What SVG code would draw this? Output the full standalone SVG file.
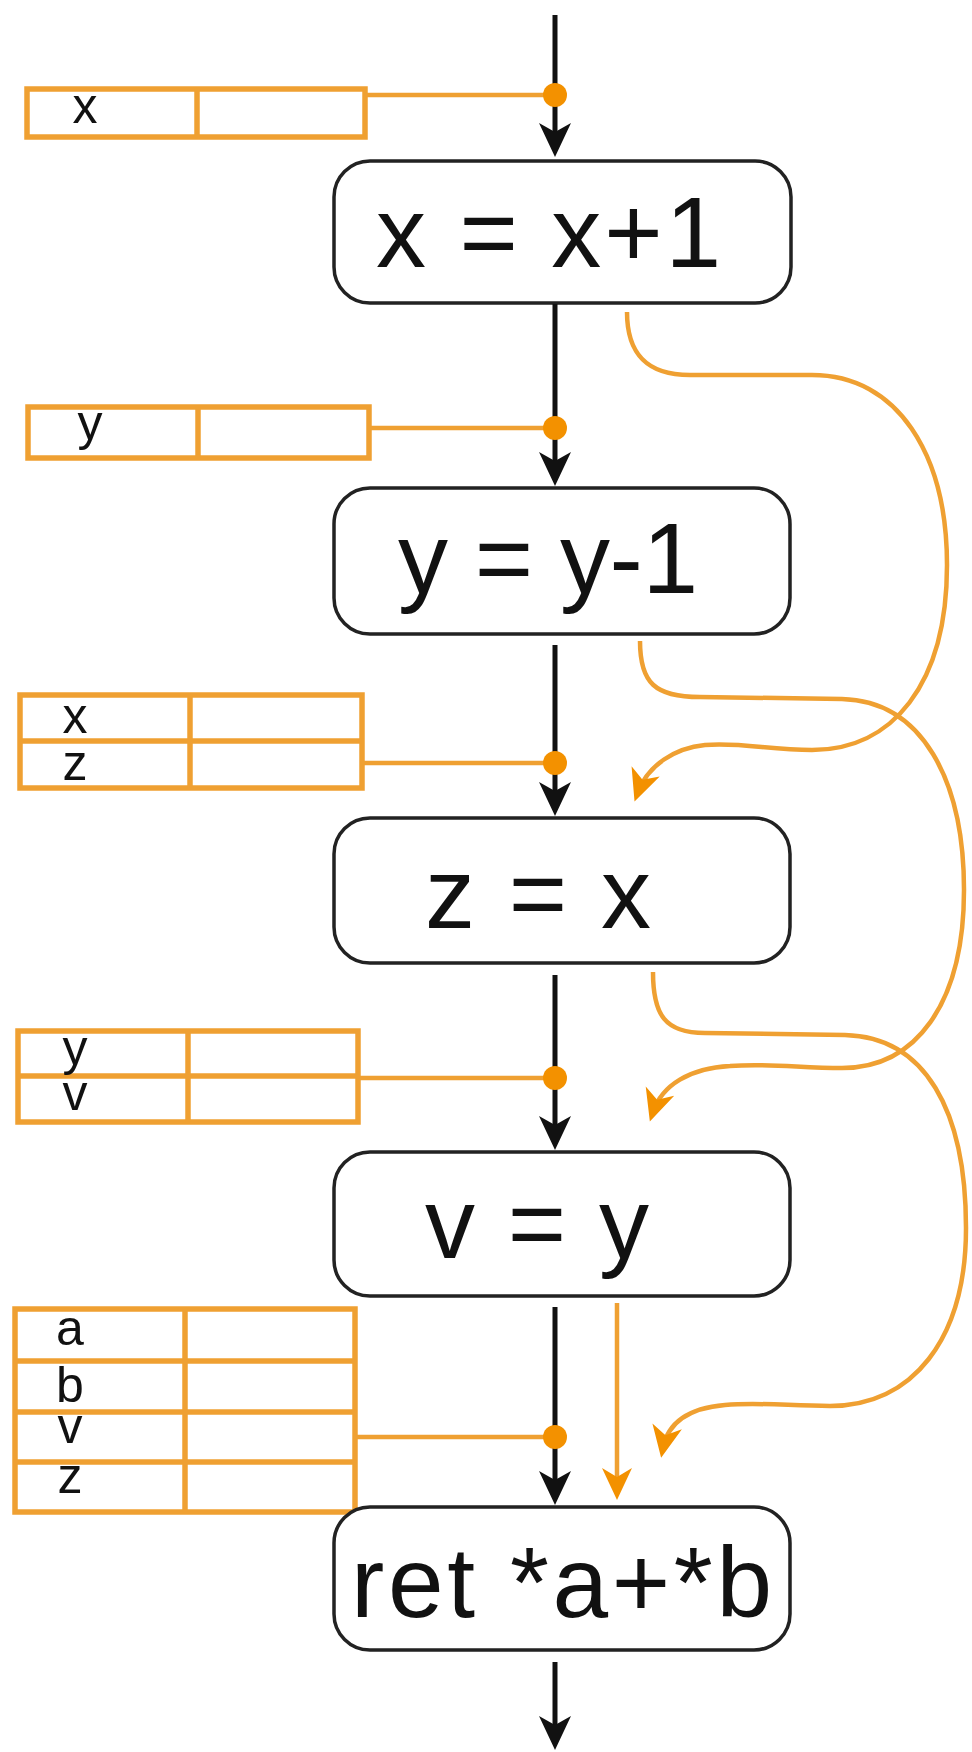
<svg xmlns="http://www.w3.org/2000/svg" width="972" height="1752" viewBox="0 0 972 1752">
  <style>
    .stmt { fill: #ffffff; stroke: #222222; stroke-width: 3.5; }
    .code { font-family: "Liberation Sans", Arial, sans-serif; font-size: 100px; fill: #111111; }
    .tab { fill: #ffffff; stroke: #EFA032; stroke-width: 5.5; }
    .cell { fill: none; stroke: #EFA032; stroke-width: 5.5; }
    .var { font-family: "Liberation Sans", Arial, sans-serif; font-size: 50px; fill: #111111; text-anchor: middle; }
    .flow { fill: none; stroke: #111111; stroke-width: 5; marker-end: url(#ah); }
    .link { fill: none; stroke: #EFA032; stroke-width: 4.5; }
    .dep { fill: none; stroke: #EFA032; stroke-width: 4.5; marker-end: url(#oh); }
    .dot { fill: #F39100; }
  </style>
  <defs>
    <marker id="ah" markerUnits="userSpaceOnUse" orient="auto" refX="0" refY="0" markerWidth="40" markerHeight="40" overflow="visible">
      <path d="M10,0 L-24,-16 L-15,0 L-24,16 Z" fill="#111111"/>
    </marker>
    <marker id="oh" markerUnits="userSpaceOnUse" orient="auto" refX="0" refY="0" markerWidth="40" markerHeight="40" overflow="visible">
      <path d="M10,0 L-22,-15 L-13,0 L-22,15 Z" fill="#F39100"/>
    </marker>
  </defs>

  <rect width="972" height="1752" fill="#ffffff"/>

  <!-- variable tables -->
  <g id="table-x">
    <rect class="tab" x="27" y="89" width="338" height="48"/>
    <line class="cell" x1="197" y1="89" x2="197" y2="137"/>
    <text class="var" x="85" y="123">x</text>
  </g>
  <g id="table-y">
    <rect class="tab" x="28" y="407" width="341" height="51"/>
    <line class="cell" x1="198" y1="407" x2="198" y2="458"/>
    <text class="var" x="90" y="440">y</text>
  </g>
  <g id="table-xz">
    <rect class="tab" x="20" y="695" width="342" height="93"/>
    <line class="cell" x1="20" y1="741" x2="362" y2="741"/>
    <line class="cell" x1="190" y1="695" x2="190" y2="788"/>
    <text class="var" x="75" y="733">x</text>
    <text class="var" x="75" y="780">z</text>
  </g>
  <g id="table-yv">
    <rect class="tab" x="18" y="1031" width="340" height="91"/>
    <line class="cell" x1="18" y1="1076" x2="358" y2="1076"/>
    <line class="cell" x1="188" y1="1031" x2="188" y2="1122"/>
    <text class="var" x="75" y="1065">y</text>
    <text class="var" x="75" y="1110">v</text>
  </g>
  <g id="table-abvz">
    <rect class="tab" x="15" y="1309" width="340" height="203"/>
    <line class="cell" x1="15" y1="1361" x2="355" y2="1361"/>
    <line class="cell" x1="15" y1="1412" x2="355" y2="1412"/>
    <line class="cell" x1="15" y1="1462" x2="355" y2="1462"/>
    <line class="cell" x1="185" y1="1309" x2="185" y2="1512"/>
    <text class="var" x="70" y="1345">a</text>
    <text class="var" x="70" y="1402">b</text>
    <text class="var" x="70" y="1443">v</text>
    <text class="var" x="70" y="1493">z</text>
  </g>

  <!-- statements -->
  <g id="stmt-x">
    <rect class="stmt" x="334" y="161" width="457" height="142" rx="36"/>
    <text class="code" x="376" y="267" textLength="345" lengthAdjust="spacing">x = x+1</text>
  </g>
  <g id="stmt-y">
    <rect class="stmt" x="334" y="488" width="456" height="146" rx="36"/>
    <text class="code" x="398" y="593" textLength="300" lengthAdjust="spacing">y = y-1</text>
  </g>
  <g id="stmt-z">
    <rect class="stmt" x="334" y="818" width="456" height="145" rx="36"/>
    <text class="code" x="425" y="928" textLength="226" lengthAdjust="spacing">z = x</text>
  </g>
  <g id="stmt-v">
    <rect class="stmt" x="334" y="1152" width="456" height="144" rx="36"/>
    <text class="code" x="425" y="1258" textLength="224" lengthAdjust="spacing">v = y</text>
  </g>
  <g id="stmt-ret">
    <rect class="stmt" x="334" y="1507" width="456" height="143" rx="36"/>
    <text class="code" x="351" y="1617" textLength="421" lengthAdjust="spacing">ret *a+*b</text>
  </g>

  <!-- control flow, table links and def-use edges -->
  <g id="connectors">
    <path class="flow" d="M555,15 L555,147"/>
    <path class="flow" d="M555,304 L555,476"/>
    <path class="flow" d="M555,645 L555,806"/>
    <path class="flow" d="M555,975 L555,1140"/>
    <path class="flow" d="M555,1307 L555,1495"/>
    <path class="flow" d="M555,1662 L555,1740"/>

    <path class="link" d="M365,95 L555,95"/>
    <path class="link" d="M369,428 L555,428"/>
    <path class="link" d="M362,763 L555,763"/>
    <path class="link" d="M358,1078 L555,1078"/>
    <path class="link" d="M355,1437 L555,1437"/>

    <circle class="dot" cx="555" cy="95" r="12"/>
    <circle class="dot" cx="555" cy="428" r="12"/>
    <circle class="dot" cx="555" cy="763" r="12"/>
    <circle class="dot" cx="555" cy="1078" r="12"/>
    <circle class="dot" cx="555" cy="1437" r="12"/>

    <path class="dep" d="M627,312 C627,352 645,375 690,375 L812,375 C898,375 947,455 947,565 C947,685 892,750 812,750 C770,750 740,742 705,745 C675,748 648,765 638,792"/>
    <path class="dep" d="M640,641 C640,683 655,697 700,697 L842,699 C922,701 964,780 964,890 C964,1005 915,1068 842,1068 C800,1068 770,1063 730,1066 C690,1068 662,1085 653,1112"/>
    <path class="dep" d="M653,972 C653,1015 665,1033 705,1033 L845,1035 C925,1037 966,1110 966,1228 C966,1340 912,1406 830,1406 C790,1406 760,1402 725,1405 C690,1408 668,1422 663,1448"/>
    <path class="dep" d="M617,1303 L617,1490"/>
  </g>
</svg>
